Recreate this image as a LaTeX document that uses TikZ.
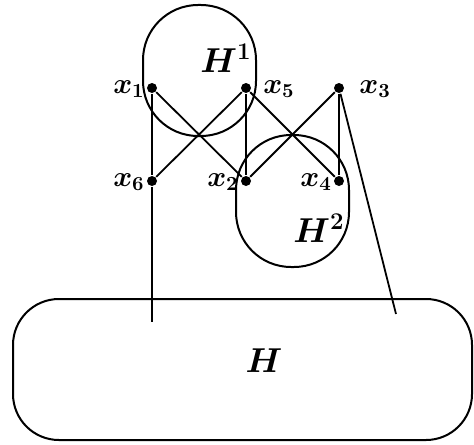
\documentclass[tikz,border=0pt]{standalone}
\usepackage{amsmath,amssymb}
\usepackage{tikz}
\usetikzlibrary{calc}

\tikzset{
  blob/.style={draw, rounded corners=27.5pt, line width=1pt},
  dot/.style={circle, fill=black, inner sep=0pt, minimum size=5pt},
  lab/.style={font=\Large\boldmath, inner sep=0pt},
  biglab/.style={font=\LARGE\boldmath, inner sep=0pt},
}

\begin{document}
\begin{tikzpicture}[x=0.5pt, y=-0.5pt, line width=0.9pt]
\useasboundingbox (0,0) rectangle (474,444);
% -- the three blobs --
\draw[blob] (143,5) rectangle (256,136);
\draw[blob] (236,135) rectangle (349,267);
\draw[blob, rounded corners=23pt] (13,299) rectangle (472,440);
\node[biglab] (h1) at (226,58) {$H^1$};
\node[biglab] (h2) at (319,228) {$H^2$};
\node[biglab] (h) at (264,361) {$H$};
% -- vertices --
\node[dot] (x1) at (152,88) {};
\node[dot] (x5) at (246,88) {};
\node[dot] (x3) at (339,88) {};
\node[dot] (x6) at (152,181) {};
\node[dot] (x2) at (246,181) {};
\node[dot] (x4) at (339,181) {};
\coordinate (e6) at (152,322);
\coordinate (e3) at (396,314);
% -- edges --
\draw (x1) -- (x6);
\draw (x5) -- (x2);
\draw (x3) -- (x4);
\draw (x1) -- (x2);
\draw (x6) -- (x5);
\draw (x5) -- (x4);
\draw (x2) -- (x3);
\draw (x6) -- (e6);
\draw (x3) -- (e3);
% -- labels --
\node[lab] (l1) at (129,89) {$x_1$};
\node[lab] (l5) at (279,89) {$x_5$};
\node[lab] (l3) at (375,89) {$x_3$};
\node[lab] (l6) at (129,182) {$x_6$};
\node[lab] (l2) at (223,182) {$x_2$};
\node[lab] (l4) at (316,182) {$x_4$};
\end{tikzpicture}
\end{document}
